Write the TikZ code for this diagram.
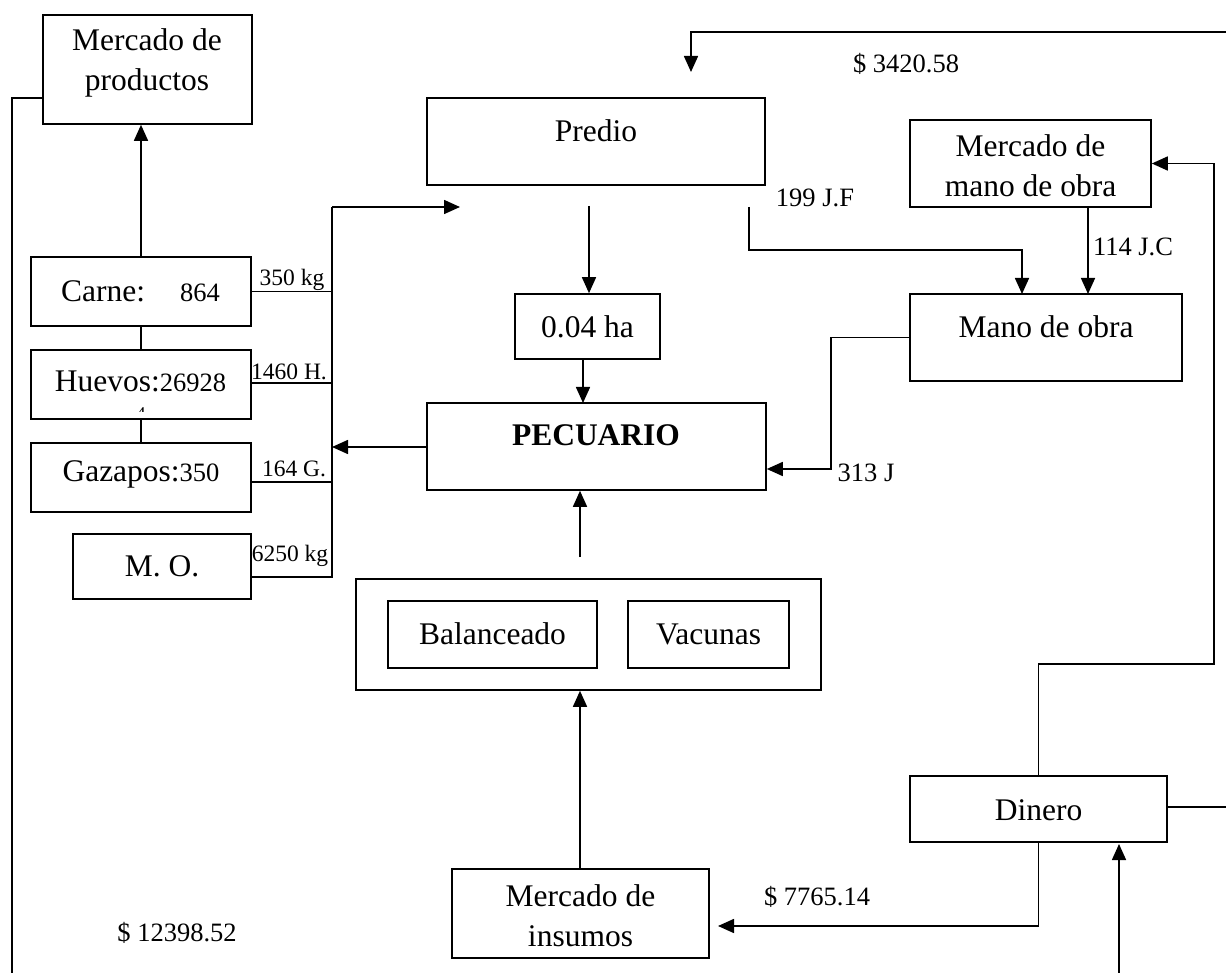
\documentclass[tikz,border=0pt]{standalone}
\usepackage{fontspec}
\setmainfont{Liberation Serif}
\usetikzlibrary{arrows.meta}
\begin{document}
\begin{tikzpicture}[x=1pt,y=-1pt,
  box/.style={draw, line width=1.6pt, inner sep=0pt},
  txt/.style={font=\fontsize{31.5}{40}\selectfont, align=center, inner sep=0pt},
  lbl/.style={font=\fontsize{26.5}{30}\selectfont, inner sep=0pt},
  slbl/.style={font=\fontsize{23.5}{26}\selectfont, inner sep=0pt},
  ln/.style={line width=1.6pt},
  arr/.style={line width=1.6pt, -{Triangle[length=16pt,width=14pt]}},
]
\newcommand{\numsz}{\fontsize{26.5}{30}\selectfont}
\useasboundingbox (0,0) rectangle (1226,973);

% ---------- boxes ----------
\node[box, minimum width=209pt, minimum height=109pt] (mprod) at (147.5,69.5) {};
\node[box, minimum width=220pt, minimum height=69pt] (carne) at (141,291.5) {};
\node[box, minimum width=220pt, minimum height=69pt] (huevos) at (141,384.5) {};
\node[box, minimum width=220pt, minimum height=69pt] (gaz) at (141,477.5) {};
\node[box, minimum width=178pt, minimum height=65pt] (mo) at (162,566.5) {};
\node[box, minimum width=338pt, minimum height=87pt] (predio) at (596,141.5) {};
\node[box, minimum width=145pt, minimum height=65pt] (ha) at (587.5,326.5) {};
\node[box, minimum width=339pt, minimum height=87pt] (pec) at (596.5,446.5) {};
\node[box, minimum width=465pt, minimum height=111pt] (outer) at (588.5,634.5) {};
\node[box, minimum width=209pt, minimum height=67pt] (bal) at (492.5,634.5) {};
\node[box, minimum width=161pt, minimum height=67pt] (vac) at (708.5,634.5) {};
\node[box, minimum width=257pt, minimum height=89pt] (mins) at (580.5,913.5) {};
\node[box, minimum width=241pt, minimum height=87pt] (mmo) at (1030.5,163.5) {};
\node[box, minimum width=272pt, minimum height=87pt] (mano) at (1046,337.5) {};
\node[box, minimum width=257pt, minimum height=66pt] (dinero) at (1038.5,809) {};

% ---------- box texts ----------
\node[txt] (mprod-t) at (147,63) {Mercado de\\productos};
\node[txt] (carne-t) at (140.5,291) {Carne:\hspace{35pt}{\numsz 864}};
\node[txt] (huevos-t) at (140.5,381) {Huevos:{\numsz 26928}};
\begin{scope}
  \clip (31,349) rectangle (251,411);
  \node[font=\fontsize{18}{20}\selectfont, inner sep=0pt, anchor=base] (huevos-4) at (141,419) {4};
\end{scope}
\node[txt] (gaz-t) at (141,474) {Gazapos:{\numsz 350}};
\node[txt] (mo-t) at (162,566) {M. O.};
\node[txt] (predio-t) at (596,131) {Predio};
\node[txt] (ha-t) at (587.5,327) {0.04 ha};
\node[txt, font=\fontsize{31.5}{40}\selectfont\bfseries] (pec-t) at (596,435) {PECUARIO};
\node[txt] (bal-t) at (492.5,634) {Balanceado};
\node[txt] (vac-t) at (708.5,634) {Vacunas};
\node[txt] (mins-t) at (580.5,916) {Mercado de\\insumos};
\node[txt] (mmo-t) at (1030.5,166) {Mercado de\\mano de obra};
\node[txt] (mano-t) at (1046,327) {Mano de obra};
\node[txt] (dinero-t) at (1038.5,810) {Dinero};

% ---------- labels ----------
\node[slbl] (l350) at (292,280) {350 kg};
\node[slbl] (l1460) at (289,372) {1460 H.};
\node[slbl] (l164) at (294,469) {164 G.};
\node[slbl] (l6250) at (290,556) {6250 kg};
\node[lbl] (l3420) at (906,64) {\$ 3420.58};
\node[lbl] (l199) at (815,198) {199 J.F};
\node[lbl] (l114) at (1133,247) {114 J.C};
\node[lbl] (l313) at (866,473) {313 J};
\node[lbl] (l7765) at (817,897) {\$ 7765.14};
\node[lbl] (l12398) at (177,933) {\$ 12398.52};

% ---------- coordinates ----------
\coordinate (busTop) at (332,207);
\coordinate (busBot) at (332,577);
\coordinate (predIn) at (460,207);
\coordinate (predOut) at (589,206);
\coordinate (jfStart) at (749,207);
\coordinate (pecBus) at (332,447);
\coordinate (outTop) at (580,557);
\coordinate (topR) at (1226,32);
\coordinate (topTip) at (691,72);
\coordinate (dinR) at (1226,807);
\coordinate (botIn) at (1119,973);
\coordinate (mpL) at (43,98);
\coordinate (leftBot) at (12,973);
\coordinate (dinX) at (1038.5,0);

% ---------- connectors ----------
% left products column
\draw[arr] (carne.north) -- (carne.north |- mprod.south);
\draw[ln] (carne.south) -- (huevos.north);
\draw[ln] (huevos.south) -- (gaz.north);
\draw[ln] (mpL) -- (12,98) -- (leftBot);

% bus
\draw[ln] (carne.east) -- (carne.east -| busTop);
\draw[ln] (251,383) -- (332,383);
\draw[ln] (251,482) -- (332,482);
\draw[ln] (251,577) -- (busBot) -- (busTop);
\draw[arr] (busTop) -- (predIn);
\draw[arr] (pec.west |- pecBus) -- (pecBus);

% centre column
\draw[arr] (predOut) -- (predOut |- ha.north);
\draw[arr] (583,359) -- (583,403);
\draw[arr] (outTop) -- (outTop |- pec.south);
\draw[arr] (mins.north -| outTop) -- (outer.south -| outTop);

% labour
\draw[arr] (jfStart) -- (749,250) -- (1022,250) -- (1022,294);
\draw[arr] (1088,207.5) -- (1088,294);
\draw[arr] (mano.west) -- (mano.west -| 831,0) -- (831,469) -- (pec.east |- 0,469);

% money
\draw[arr] (topR) -- (691,32) -- (topTip);
\draw[arr] (dinero.north) -- (dinX |- 0,664) -- (1214,664) -- (1214,163.5) -- (mmo.east);
\draw[ln] (dinero.east |- dinR) -- (dinR);
\draw[arr] (dinero.south) -- (dinX |- 0,926) -- (718,926);
\draw[arr] (botIn) -- (1119,844);
\end{tikzpicture}
\end{document}
